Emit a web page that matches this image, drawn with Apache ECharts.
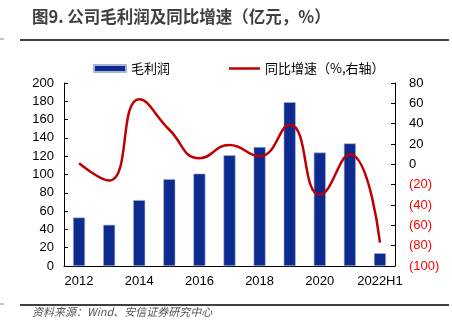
<!DOCTYPE html>
<html><head><meta charset="utf-8">
<script src="https://cdn.jsdelivr.net/npm/echarts@6/dist/echarts.min.js"></script>
<style>html,body{margin:0;padding:0;background:#fff}#c{width:452px;height:336px}</style>
</head><body><div id="c"></div>
<script>
var categories = ['2012','2013','2014','2015','2016','2017','2018','2019','2020','2021','2022H1'];
var grossProfit = [53, 45, 72, 95, 101, 121, 130, 179, 124, 134, 14];
var yoyGrowth = [1, -16, 64, 34, 6, 19, 8, 39, -30, 10, -77];
var leftTicks = {min: 0, max: 200, interval: 20};
var rightTicks = {min: -100, max: 80, interval: 20};
var titleText = '图9. 公司毛利润及同比增速（亿元，%）';
var sourceText = '资料来源：Wind、安信证券研究中心';
var barName = '毛利润';
var lineName = '同比增速（%,右轴）';

var numFont = 'Liberation Sans, Arial, sans-serif';
var cjkFont = 'Noto Sans CJK SC, sans-serif';
var chart = echarts.init(document.getElementById('c'));
chart.setOption({
  animation: false,
  textStyle: {fontFamily: numFont},
  graphic: [
    {type: 'text', left: 32, top: 8, style: {text: titleText, fontSize: 16.5, fontWeight: 'bold', fill: '#404040', fontFamily: cjkFont}},
    {type: 'line', shape: {x1: 20, y1: 40, x2: 449, y2: 40}, style: {stroke: '#000', lineWidth: 1.5}},
    {type: 'line', shape: {x1: 0, y1: 39, x2: 4, y2: 39}, style: {stroke: '#888', lineWidth: 1}},
    {type: 'line', shape: {x1: 20, y1: 305, x2: 449, y2: 305}, style: {stroke: '#000', lineWidth: 1.5}},
    {type: 'line', shape: {x1: 0, y1: 304, x2: 4, y2: 304}, style: {stroke: '#888', lineWidth: 1}},
    {type: 'text', left: 32, top: 306, style: {text: sourceText, fontSize: 11, fontStyle: 'italic', fill: '#555', fontFamily: cjkFont}}
  ],
  legend: [
    {data: [{name: barName, icon: 'rect'}], left: 93, top: 62, padding: 0, itemWidth: 32, itemHeight: 7, itemGap: 5,
     textStyle: {fontSize: 13, color: '#000', fontFamily: cjkFont}},
    {data: [{name: lineName, icon: 'rect'}], left: 229, top: 62, padding: 0, itemWidth: 31, itemHeight: 2.5, itemGap: 5,
     itemStyle: {color: '#c00000'},
     textStyle: {fontSize: 13, color: '#000', fontFamily: cjkFont}}
  ],
  grid: {left: 64, right: 57, top: 83, bottom: 70},
  xAxis: {
    type: 'category', data: categories,
    axisLine: {lineStyle: {color: '#000', width: 1}},
    axisTick: {inside: true, length: 4, lineStyle: {color: '#000'}},
    axisLabel: {interval: 1, color: '#000', fontSize: 13, margin: 9, fontFamily: numFont}
  },
  yAxis: [
    {type: 'value', min: leftTicks.min, max: leftTicks.max, interval: leftTicks.interval,
     splitLine: {show: false},
     axisLine: {show: true, lineStyle: {color: '#000'}},
     axisTick: {show: true, inside: true, length: 4, lineStyle: {color: '#000'}},
     axisLabel: {color: '#000', fontSize: 13, margin: 10, fontFamily: numFont}},
    {type: 'value', min: rightTicks.min, max: rightTicks.max, interval: rightTicks.interval,
     position: 'right', splitLine: {show: false},
     axisLine: {show: true, lineStyle: {color: '#000'}},
     axisTick: {show: true, inside: true, length: 4, lineStyle: {color: '#000'}},
     axisLabel: {fontSize: 13, margin: 14, fontFamily: numFont,
       formatter: function (v) { return v < 0 ? '(' + (-v) + ')' : String(v); },
       color: function (v) { return Number(v) < 0 ? '#ff0000' : '#000'; }}}
  ],
  series: [
    {name: barName, type: 'bar', data: grossProfit, barWidth: 12, yAxisIndex: 0,
     itemStyle: {color: '#0d2a8e', borderColor: '#aab4d8', borderWidth: 0.6}},
    {name: lineName, type: 'line', data: yoyGrowth, yAxisIndex: 1, smooth: 0.5,
     showSymbol: false, symbol: 'none',
     lineStyle: {color: '#c00000', width: 2.5}, itemStyle: {color: '#c00000'}}
  ]
});
</script></body></html>
